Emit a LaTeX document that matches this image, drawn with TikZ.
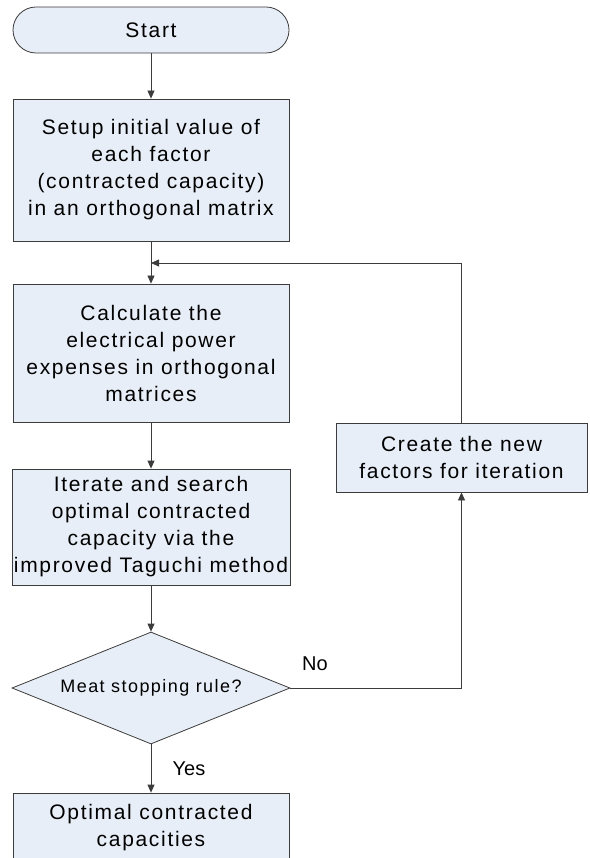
\documentclass[tikz,border=0pt]{standalone}
\usepackage{fontspec}
\setmainfont{Liberation Sans}
\newfontfamily\boxfont[LetterSpace=8]{Liberation Sans}
\usetikzlibrary{arrows.meta,shapes.geometric}
\definecolor{boxfill}{RGB}{232,238,247}
\definecolor{linegray}{RGB}{60,60,60}
\tikzset{
  base/.style={draw=linegray, line width=0.8pt, fill=boxfill, align=center,
    inner sep=2pt, font=\boxfont\fontsize{21}{27}\selectfont},
  procbox/.style={base, rectangle},
  termbox/.style={base, rectangle, rounded corners=23pt},
  decbox/.style={base, diamond, shape aspect=2.5, font=\boxfont\fontsize{18}{22}\selectfont},
  conn/.style={draw=linegray, line width=0.8pt},
  arr/.style={conn, -{Triangle[length=8pt,width=7pt]}},
  lab/.style={font=\fontsize{20}{24}\selectfont, inner sep=0pt}
}
\begin{document}
\begin{tikzpicture}[x=1pt,y=-1pt]
\useasboundingbox (0,0) rectangle (589,858);
\clip (0,0) rectangle (589,858);
\node[termbox, minimum width=276pt, minimum height=46pt] (start) at (151,30) {Start};
\node[procbox, minimum width=276pt, minimum height=142pt] (b1) at (151,170)
  {Setup initial value of\\each factor\\(contracted capacity)\\in an orthogonal matrix};
\node[procbox, minimum width=276pt, minimum height=138pt] (b2) at (151,353)
  {Calculate the\\electrical power\\expenses in orthogonal\\matrices};
\node[procbox, minimum width=276pt, minimum height=116pt] (b3) at (151,527)
  {Iterate and search\\optimal contracted\\capacity via the\\improved Taguchi method};
\node[decbox, minimum width=278pt, minimum height=112pt] (dia) at (151,688) {Meat stopping rule?};
\node[procbox, minimum width=251pt, minimum height=69pt] (create) at (461.5,457.5)
  {Create the new\\factors for iteration};
\node[procbox, minimum width=276pt, minimum height=69pt] (final) at (151,827.5)
  {Optimal contracted\\capacities};
\coordinate (fb) at (151,263);
\draw[arr] (start) -- (b1);
\draw[arr] (b1) -- (b2);
\draw[arr] (b2) -- (b3);
\draw[arr] (b3) -- (dia);
\draw[arr] (dia) -- (final);
\draw[arr] (dia.east) -| (create.south);
\draw[arr] (create.north) |- (fb);
\node[lab] (yes) at (189,769) {Yes};
\node[lab] (no) at (315,664) {No};
\end{tikzpicture}
\end{document}
